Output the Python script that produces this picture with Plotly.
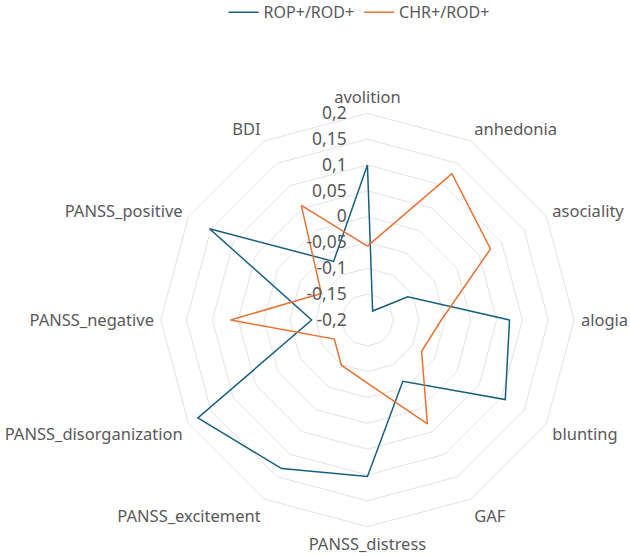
import plotly.graph_objects as go

categories = ["avolition", "anhedonia", "asociality", "alogia", "blunting", "GAF",
              "PANSS_distress", "PANSS_excitement", "PANSS_disorganization",
              "PANSS_negative", "PANSS_positive", "BDI"]
rop_rod = [0.10, -0.18, -0.11, 0.075, 0.108, -0.063, 0.103, 0.132, 0.179, -0.092, 0.153, -0.069]
chr_rod = [-0.057, 0.127, 0.075, -0.057, -0.079, 0.032, -0.078, -0.099, -0.126, 0.065, -0.097, 0.056]
tick_vals = [-0.2, -0.15, -0.1, -0.05, 0, 0.05, 0.1, 0.15, 0.2]
tick_text = ["-0,2", "-0,15", "-0,1", "-0,05", "0", "0,05", "0,1", "0,15", "0,2"]

FONT = "Noto Sans"
TXT = "#595959"

fig = go.Figure()
fig.add_trace(go.Scatterpolar(r=rop_rod + rop_rod[:1], theta=categories + categories[:1],
                              mode="lines", name="ROP+/ROD+",
                              line=dict(color="#156082", width=1.5)))
fig.add_trace(go.Scatterpolar(r=chr_rod + chr_rod[:1], theta=categories + categories[:1],
                              mode="lines", name="CHR+/ROD+",
                              line=dict(color="#E97132", width=1.5)))

fig.update_layout(
    width=630, height=556,
    margin=dict(l=0, r=0, t=0, b=0, autoexpand=False),
    paper_bgcolor="white",
    font=dict(family=FONT, size=15, color=TXT),
    showlegend=True,
    legend=dict(orientation="h", x=0.57, xanchor="center",
                y=0.978, yref="container", yanchor="middle",
                font=dict(size=16, color=TXT), itemwidth=30),
    polar=dict(
        domain=dict(x=[0.2552, 0.9113], y=[0.0527, 0.7962]),
        gridshape="linear",
        bgcolor="white",
        angularaxis=dict(direction="clockwise", rotation=90,
                         showgrid=False, showline=True, linecolor="#E3E3E3", linewidth=1,
                         ticks="outside", ticklen=3, tickcolor="rgba(0,0,0,0)",
                         tickfont=dict(size=16.5, color=TXT, family=FONT)),
        radialaxis=dict(range=[-0.2, 0.2], angle=90, tickangle=90,
                        side="counterclockwise",
                        tickvals=tick_vals, ticktext=tick_text,
                        showline=False, gridcolor="#E3E3E3", gridwidth=1,
                        ticks="outside", ticklen=14, tickcolor="rgba(0,0,0,0)",
                        tickfont=dict(size=17.5, color=TXT, family=FONT)),
    ),
)

fig.write_html("out.html")
